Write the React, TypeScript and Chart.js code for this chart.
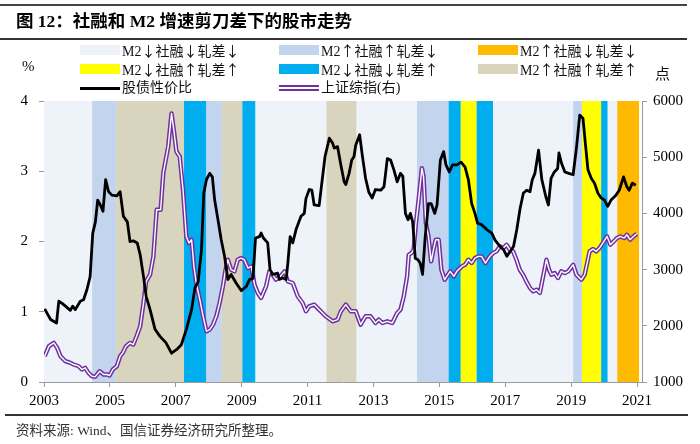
import React, { useEffect, useRef } from "react";
import { Chart, registerables } from "chart.js";

Chart.register(...registerables);

// 股债性价比 (left axis)
const ratioX = [2003.02,2003.2,2003.38,2003.45,2003.55,2003.65,2003.8,2003.87,2003.95,2004.1,2004.2,2004.3,2004.4,2004.48,2004.56,2004.63,2004.71,2004.79,2004.87,2004.96,2005.06,2005.21,2005.31,2005.41,2005.53,2005.61,2005.71,2005.83,2005.92,2006.02,2006.1,2006.22,2006.37,2006.52,2006.7,2006.87,2007.02,2007.17,2007.32,2007.48,2007.58,2007.68,2007.78,2007.85,2007.93,2008.03,2008.11,2008.18,2008.28,2008.38,2008.48,2008.58,2008.68,2008.83,2008.99,2009.14,2009.24,2009.34,2009.42,2009.54,2009.59,2009.66,2009.79,2009.86,2009.94,2010.09,2010.14,2010.24,2010.35,2010.4,2010.47,2010.55,2010.65,2010.8,2010.9,2010.95,2011.05,2011.13,2011.2,2011.35,2011.45,2011.53,2011.66,2011.76,2011.81,2011.91,2012.01,2012.11,2012.16,2012.26,2012.34,2012.41,2012.46,2012.58,2012.66,2012.76,2012.86,2012.96,2013.06,2013.22,2013.32,2013.42,2013.52,2013.62,2013.72,2013.82,2013.89,2013.97,2014.05,2014.12,2014.19,2014.27,2014.35,2014.42,2014.49,2014.57,2014.67,2014.75,2014.86,2014.93,2015.03,2015.13,2015.2,2015.3,2015.4,2015.53,2015.66,2015.78,2015.88,2015.98,2016.08,2016.16,2016.28,2016.44,2016.59,2016.69,2016.84,2016.94,2017.05,2017.18,2017.25,2017.35,2017.45,2017.55,2017.65,2017.75,2017.82,2017.9,2018.01,2018.11,2018.23,2018.31,2018.39,2018.49,2018.59,2018.63,2018.71,2018.81,2018.93,2019.06,2019.16,2019.26,2019.36,2019.43,2019.51,2019.61,2019.71,2019.81,2019.91,2020.01,2020.11,2020.21,2020.36,2020.46,2020.59,2020.69,2020.76,2020.86,2020.96];
const ratioY = [1.04,0.89,0.84,1.15,1.12,1.08,1.02,1.08,1.03,1.15,1.17,1.31,1.5,2.12,2.28,2.59,2.52,2.43,2.88,2.71,2.66,2.65,2.71,2.36,2.28,2.0,2.01,1.98,1.81,1.5,1.22,1.03,0.75,0.65,0.56,0.41,0.46,0.53,0.75,1.03,1.34,1.43,1.88,2.69,2.88,2.97,2.92,2.59,2.31,2.02,1.79,1.46,1.53,1.41,1.3,1.36,1.46,1.47,2.05,2.07,2.12,2.05,1.98,1.6,1.53,1.55,1.46,1.48,1.46,1.69,2.07,1.98,2.17,2.36,2.4,2.61,2.74,2.73,2.52,2.51,2.9,3.21,3.47,3.4,3.33,3.35,3.09,2.85,2.81,2.97,3.16,3.21,3.37,3.52,3.23,2.9,2.7,2.62,2.74,2.73,2.78,3.18,3.16,3.02,2.85,2.97,2.93,2.4,2.31,2.4,2.28,1.76,1.74,1.69,1.53,2.07,2.54,2.54,2.4,2.52,3.16,3.28,3.09,2.99,3.09,3.09,3.13,3.06,2.88,2.54,2.4,2.26,2.24,2.17,2.12,2.02,1.93,1.89,1.79,1.88,1.93,2.17,2.47,2.69,2.73,2.71,2.88,2.97,3.3,2.88,2.64,2.52,2.9,2.99,3.04,3.26,3.11,2.99,2.97,2.95,3.33,3.8,3.75,3.4,3.02,2.9,2.83,2.69,2.62,2.59,2.5,2.59,2.66,2.73,2.92,2.78,2.73,2.83,2.8];

// 上证综指 (right axis)
const sseX = [2003.02,2003.15,2003.3,2003.4,2003.5,2003.65,2003.8,2003.9,2004.05,2004.15,2004.25,2004.35,2004.45,2004.55,2004.69,2004.81,2004.91,2004.99,2005.09,2005.21,2005.31,2005.39,2005.49,2005.61,2005.71,2005.81,2005.92,2006.02,2006.1,2006.22,2006.32,2006.42,2006.54,2006.62,2006.77,2006.87,2006.94,2007.02,2007.12,2007.22,2007.32,2007.4,2007.48,2007.55,2007.63,2007.73,2007.83,2007.93,2008.03,2008.13,2008.23,2008.33,2008.43,2008.51,2008.58,2008.68,2008.78,2008.88,2008.98,2009.08,2009.19,2009.29,2009.39,2009.49,2009.59,2009.74,2009.84,2009.94,2010.04,2010.17,2010.3,2010.4,2010.55,2010.7,2010.85,2010.95,2011.05,2011.2,2011.35,2011.55,2011.76,2011.91,2012.01,2012.16,2012.31,2012.46,2012.61,2012.76,2012.91,2013.06,2013.16,2013.27,2013.42,2013.57,2013.72,2013.82,2013.92,2014.02,2014.07,2014.15,2014.22,2014.29,2014.37,2014.47,2014.52,2014.59,2014.67,2014.75,2014.82,2014.89,2014.98,2015.06,2015.16,2015.26,2015.33,2015.44,2015.53,2015.68,2015.78,2015.88,2015.98,2016.08,2016.18,2016.28,2016.4,2016.53,2016.63,2016.73,2016.84,2016.94,2017.04,2017.14,2017.24,2017.34,2017.44,2017.54,2017.64,2017.75,2017.85,2017.95,2018.05,2018.15,2018.25,2018.33,2018.4,2018.5,2018.6,2018.7,2018.81,2018.91,2019.06,2019.16,2019.31,2019.41,2019.56,2019.66,2019.76,2019.86,2019.96,2020.09,2020.19,2020.29,2020.39,2020.49,2020.61,2020.69,2020.79,2020.89,2020.99];
const sseY = [1459,1637,1696,1607,1459,1370,1340,1311,1281,1222,1252,1163,1104,1092,1192,1133,1133,1115,1222,1281,1459,1518,1637,1696,1666,1814,1992,2406,2791,2909,3235,4064,4064,4715,5189,5780,5485,5100,5011,4419,3590,3472,3531,3057,2732,2465,2169,1903,1933,2021,2169,2406,2702,2998,3176,2998,2969,3176,3205,3176,3028,3057,2732,2584,2495,2702,2969,2909,2821,2880,2969,2791,2761,2525,2406,2258,2347,2377,2288,2169,2080,2110,2258,2377,2258,2258,2021,2169,2169,2050,2110,2050,2080,2050,2229,2288,2525,2880,3264,3294,3353,3827,4241,4804,4656,3827,3590,3146,3353,3531,3531,2998,2821,2909,2969,2880,2969,3057,3087,3176,3117,3205,3235,3235,3117,3235,3294,3324,3413,3383,3442,3353,3324,3176,2998,2909,2791,2673,2613,2643,2584,2880,3176,2998,2909,2939,2850,2969,2939,2969,3087,2909,2821,2909,3324,3366,3324,3383,3472,3590,3442,3501,3561,3590,3561,3620,3531,3590,3638];

// background regimes
const bandStart = [2003.0,2004.46,2005.19,2007.25,2007.93,2008.4,2009.02,2009.42,2011.57,2012.49,2014.32,2015.28,2015.65,2016.13,2016.63,2019.06,2019.33,2019.91,2020.11,2020.4];
const bandEnd = [2004.46,2005.19,2007.25,2007.93,2008.4,2009.02,2009.42,2011.57,2012.49,2014.32,2015.28,2015.65,2016.13,2016.63,2019.06,2019.33,2019.91,2020.11,2020.4,2021.06];
const bandType = [0,1,5,4,1,5,4,0,5,0,1,4,3,4,0,1,3,4,0,2];

const regimeLabels = ["社融↓轧差↓","社融↑轧差↓","社融↓轧差↓","社融↑轧差↑","社融↓轧差↑","社融↑轧差↑"];
const regimeM2 = ["M2↓","M2↑","M2↑","M2↓","M2↓","M2↑"];
const regimeColors = ["#EEF3FA","#C3D5EE","#FFB900","#FFFF00","#00AEEF","#D9D4BD"];

const xTicks = [2003,2005,2007,2009,2011,2013,2015,2017,2019,2021];
const yLeftTicks = [0,1,2,3,4];
const yRightTicks = [1000,2000,3000,4000,5000,6000];

const AXIS = "#9a9a9a";
const SERIF = '"Liberation Serif", "Noto Sans CJK SC", serif';
const CJK = '"Liberation Serif", "Noto Sans CJK SC", sans-serif';
const CJKFIRST = '"Noto Sans CJK SC", sans-serif';

const bandsPlugin = {
  id: "bands",
  beforeDatasetsDraw(chart: any) {
    const { ctx, chartArea, scales } = chart;
    const xs = scales.x;
    ctx.save();
    for (let i = 0; i < bandStart.length; i++) {
      const a = xs.getPixelForValue(bandStart[i]);
      const b = xs.getPixelForValue(bandEnd[i]);
      ctx.fillStyle = regimeColors[bandType[i]];
      ctx.fillRect(a, chartArea.top, b - a, chartArea.bottom - chartArea.top);
    }
    ctx.restore();
  },
};

function ChartView() {
  const ref = useRef<HTMLCanvasElement | null>(null);
  useEffect(() => {
    if (!ref.current) return;
    const tickFont = { family: SERIF, size: 15 };
    const chart = new Chart(ref.current, {
      type: "line",
      data: {
        datasets: [
          {
            label: "股债性价比",
            data: ratioX.map((x, i) => ({ x, y: ratioY[i] })),
            borderColor: "#000",
            borderWidth: 2.8,
            borderJoinStyle: "round",
            pointRadius: 0,
            yAxisID: "y",
            tension: 0,
          },
          {
            label: "inner",
            data: sseX.map((x, i) => ({ x, y: sseY[i] })),
            borderColor: "#ffffff",
            borderWidth: 1.4,
            borderJoinStyle: "round",
            pointRadius: 0,
            yAxisID: "y2",
            tension: 0,
          },
          {
            label: "上证综指(右)",
            data: sseX.map((x, i) => ({ x, y: sseY[i] })),
            borderColor: "#7030A0",
            borderWidth: 4.4,
            borderJoinStyle: "round",
            pointRadius: 0,
            yAxisID: "y2",
            tension: 0,
          },
        ],
      },
      options: {
        responsive: false,
        animation: false,
        events: [],
        layout: { padding: { top: 101, left: 0, right: 0, bottom: 0 } },
        plugins: { legend: { display: false }, tooltip: { enabled: false }, title: { display: false } },
        scales: {
          x: {
            type: "linear",
            min: 2003,
            max: 2021.15,
            afterBuildTicks: (s: any) => { s.ticks = xTicks.map((v) => ({ value: v })); },
            afterFit: (s: any) => { s.height = 62; },
            ticks: { font: tickFont, color: "#000", padding: 5, maxRotation: 0, callback: (v: any) => String(v) },
            grid: { drawOnChartArea: false, drawTicks: true, tickLength: 5, color: AXIS },
            border: { color: AXIS, width: 1 },
          },
          y: {
            position: "left",
            min: 0,
            max: 4,
            afterBuildTicks: (s: any) => { s.ticks = yLeftTicks.map((v) => ({ value: v })); },
            afterFit: (s: any) => { s.width = 44; },
            ticks: { font: tickFont, color: "#000", padding: 11, callback: (v: any) => String(v) },
            grid: { drawOnChartArea: false, drawTicks: true, tickLength: 5, color: AXIS },
            border: { color: AXIS, width: 1 },
          },
          y2: {
            position: "right",
            min: 1000,
            max: 6000,
            afterBuildTicks: (s: any) => { s.ticks = yRightTicks.map((v) => ({ value: v })); },
            afterFit: (s: any) => { s.width = 58; },
            ticks: { font: tickFont, color: "#000", padding: 6, callback: (v: any) => String(v) },
            grid: { drawOnChartArea: false, drawTicks: true, tickLength: 5, color: AXIS },
            border: { color: AXIS, width: 1 },
          },
        },
      },
      plugins: [bandsPlugin],
    } as any);
    return () => chart.destroy();
  }, []);
  return <canvas ref={ref} width={700} height={444} style={{ position: "absolute", left: 0, top: 0, width: 700, height: 444 }} />;
}

const legendCols = [80, 279, 478];
const legendRows = [50, 69, 88];
const regimeOrder = [0, 1, 2, 3, 4, 5];

function M2Label({ m2, rest }: { m2: string; rest: string }) {
  return (
    <span>
      <span style={{ fontFamily: SERIF }}>M2</span>
      <span style={{ fontFamily: CJKFIRST }}>{m2.slice(2)}{rest}</span>
    </span>
  );
}

export default function App() {
  const abs = (l: number, t: number): React.CSSProperties => ({ position: "absolute", left: l, top: t });
  return (
    <div style={{ position: "absolute", left: 0, top: 0, width: 700, height: 444, background: "#fff", overflow: "hidden" }}>
      <ChartView />
      <div style={{ position: "absolute", left: 0, top: 4, width: 687, height: 2, background: "#444" }} />
      <div style={{ ...abs(16, 9), fontFamily: CJK, fontWeight: 700, fontSize: 17.5, lineHeight: "24px", color: "#000", whiteSpace: "nowrap" }}>
        图 12：社融和 M2 增速剪刀差下的股市走势
      </div>
      <div style={{ position: "absolute", left: 0, top: 38, width: 687, height: 1.5, background: "#333" }} />
      {regimeOrder.map((k, i) => {
        const col = i % 3;
        const row = Math.floor(i / 3);
        const cx = legendCols[col];
        const cy = legendRows[row];
        return (
          <React.Fragment key={k}>
            <div style={{ position: "absolute", left: cx, top: cy - 5, width: 40, height: 10, background: regimeColors[k] }} />
            <div style={{ ...abs(cx + 42, cy - 10), fontSize: 14, lineHeight: "20px", color: "#111", whiteSpace: "nowrap" }}>
              <M2Label m2={regimeM2[k]} rest={regimeLabels[k]} />
            </div>
          </React.Fragment>
        );
      })}
      <div style={{ position: "absolute", left: legendCols[0], top: legendRows[2] - 1.5, width: 40, height: 3, background: "#000" }} />
      <div style={{ ...abs(legendCols[0] + 42, legendRows[2] - 10), fontFamily: CJK, fontSize: 14, lineHeight: "20px", color: "#111" }}>股债性价比</div>
      <div style={{ position: "absolute", left: legendCols[1], top: legendRows[2] - 3, width: 40, height: 6, background: "#7030A0" }} />
      <div style={{ position: "absolute", left: legendCols[1], top: legendRows[2] - 0.7, width: 40, height: 1.4, background: "#fff" }} />
      <div style={{ ...abs(legendCols[1] + 42, legendRows[2] - 10), fontFamily: CJK, fontSize: 14, lineHeight: "20px", color: "#111" }}>上证综指(右)</div>
      <div style={{ ...abs(22, 56), fontFamily: SERIF, fontSize: 15, lineHeight: "20px", color: "#111" }}>%</div>
      <div style={{ ...abs(655, 64), fontFamily: CJK, fontSize: 15, lineHeight: "20px", color: "#111" }}>点</div>
      <div style={{ position: "absolute", left: 5, top: 414, width: 683, height: 1.5, background: "#333" }} />
      <div style={{ ...abs(16, 422), fontFamily: CJK, fontSize: 13.5, lineHeight: "18px", color: "#333", whiteSpace: "nowrap" }}>
        资料来源: Wind、国信证券经济研究所整理。
      </div>
    </div>
  );
}
